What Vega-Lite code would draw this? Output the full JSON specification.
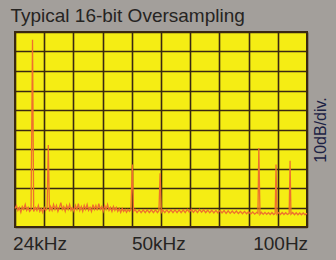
{
  "$schema": "https://vega.github.io/schema/vega-lite/v6.json",
  "width": 292,
  "height": 195,
  "autosize": "none",
  "padding": {"left": 15, "top": 32, "right": 29, "bottom": 33},
  "background": "#a39f9b",
  "title": {"text": "Typical 16-bit Oversampling", "anchor": "start", "font": "Liberation Sans", "fontSize": 19, "fontWeight": "normal", "color": "#262422", "offset": 6, "baseline": "bottom", "dx": -2, "dy": 19},
  "data": {"values": [
    {"div": 0.00, "dB": -90.5}, {"div": 0.05, "dB": -89}, {"div": 0.10, "dB": -91.5}, {"div": 0.15, "dB": -90}, {"div": 0.20, "dB": -92.5},
    {"div": 0.25, "dB": -89.5}, {"div": 0.30, "dB": -91}, {"div": 0.35, "dB": -88.5}, {"div": 0.40, "dB": -91.5}, {"div": 0.45, "dB": -90},
    {"div": 0.50, "dB": -92}, {"div": 0.55, "dB": -91}, {"div": 0.60, "dB": -4}, {"div": 0.64, "dB": -92}, {"div": 0.70, "dB": -90},
    {"div": 0.75, "dB": -91.5}, {"div": 0.80, "dB": -89}, {"div": 0.85, "dB": -92}, {"div": 0.90, "dB": -90.5}, {"div": 0.95, "dB": -92.5},
    {"div": 1.00, "dB": -90}, {"div": 1.05, "dB": -91.5}, {"div": 1.10, "dB": -90}, {"div": 1.14, "dB": -58}, {"div": 1.18, "dB": -92},
    {"div": 1.22, "dB": -89.5}, {"div": 1.27, "dB": -91.5}, {"div": 1.32, "dB": -88.5}, {"div": 1.37, "dB": -91}, {"div": 1.42, "dB": -89},
    {"div": 1.47, "dB": -92}, {"div": 1.52, "dB": -90}, {"div": 1.57, "dB": -87.5}, {"div": 1.62, "dB": -91}, {"div": 1.67, "dB": -89.5},
    {"div": 1.72, "dB": -92}, {"div": 1.77, "dB": -89}, {"div": 1.82, "dB": -91}, {"div": 1.87, "dB": -88.5}, {"div": 1.92, "dB": -91.5},
    {"div": 1.97, "dB": -90}, {"div": 2.02, "dB": -92}, {"div": 2.07, "dB": -89}, {"div": 2.12, "dB": -91}, {"div": 2.17, "dB": -88},
    {"div": 2.22, "dB": -91.5}, {"div": 2.27, "dB": -89.5}, {"div": 2.32, "dB": -92}, {"div": 2.37, "dB": -89}, {"div": 2.42, "dB": -91},
    {"div": 2.47, "dB": -88.5}, {"div": 2.52, "dB": -91.5}, {"div": 2.57, "dB": -90}, {"div": 2.62, "dB": -92}, {"div": 2.67, "dB": -88.5},
    {"div": 2.72, "dB": -91}, {"div": 2.77, "dB": -89}, {"div": 2.82, "dB": -91.5}, {"div": 2.87, "dB": -88}, {"div": 2.92, "dB": -91},
    {"div": 2.97, "dB": -89.5}, {"div": 3.02, "dB": -92}, {"div": 3.07, "dB": -89}, {"div": 3.12, "dB": -91}, {"div": 3.17, "dB": -88.5},
    {"div": 3.22, "dB": -91.5}, {"div": 3.27, "dB": -90}, {"div": 3.32, "dB": -92}, {"div": 3.37, "dB": -89.5}, {"div": 3.42, "dB": -91.5},
    {"div": 3.47, "dB": -90}, {"div": 3.52, "dB": -92}, {"div": 3.57, "dB": -90.5}, {"div": 3.62, "dB": -92.5}, {"div": 3.67, "dB": -90.5},
    {"div": 3.72, "dB": -92}, {"div": 3.77, "dB": -91}, {"div": 3.82, "dB": -92.5}, {"div": 3.87, "dB": -91}, {"div": 3.92, "dB": -92},
    {"div": 3.97, "dB": -91}, {"div": 4.02, "dB": -68}, {"div": 4.06, "dB": -92}, {"div": 4.11, "dB": -91}, {"div": 4.18, "dB": -92.6},
    {"div": 4.25, "dB": -91.2}, {"div": 4.32, "dB": -92.6}, {"div": 4.39, "dB": -91.2}, {"div": 4.46, "dB": -92.6}, {"div": 4.53, "dB": -91.2},
    {"div": 4.60, "dB": -92.6}, {"div": 4.67, "dB": -91.2}, {"div": 4.74, "dB": -92.6}, {"div": 4.81, "dB": -91.2}, {"div": 4.88, "dB": -92.6},
    {"div": 4.93, "dB": -91.5}, {"div": 4.97, "dB": -72.5}, {"div": 5.01, "dB": -92.5}, {"div": 5.06, "dB": -91.2}, {"div": 5.13, "dB": -92.6},
    {"div": 5.20, "dB": -91.2}, {"div": 5.27, "dB": -92.6}, {"div": 5.34, "dB": -91.2}, {"div": 5.41, "dB": -92.6}, {"div": 5.48, "dB": -91.2},
    {"div": 5.55, "dB": -92.6}, {"div": 5.62, "dB": -91.2}, {"div": 5.69, "dB": -92.6}, {"div": 5.76, "dB": -91.2}, {"div": 5.83, "dB": -92.6},
    {"div": 5.90, "dB": -91}, {"div": 5.97, "dB": -92.4}, {"div": 6.04, "dB": -91}, {"div": 6.11, "dB": -92.5}, {"div": 6.18, "dB": -91.2},
    {"div": 6.25, "dB": -92.6}, {"div": 6.32, "dB": -91}, {"div": 6.39, "dB": -92.4}, {"div": 6.46, "dB": -91.2}, {"div": 6.53, "dB": -92.6},
    {"div": 6.60, "dB": -91.3}, {"div": 6.67, "dB": -92.7}, {"div": 6.74, "dB": -91.4}, {"div": 6.81, "dB": -92.8}, {"div": 6.88, "dB": -91.5},
    {"div": 6.95, "dB": -92.8}, {"div": 7.02, "dB": -91.5}, {"div": 7.09, "dB": -92.8}, {"div": 7.16, "dB": -91.6}, {"div": 7.23, "dB": -93},
    {"div": 7.30, "dB": -91.7}, {"div": 7.37, "dB": -93}, {"div": 7.44, "dB": -91.8}, {"div": 7.51, "dB": -93}, {"div": 7.58, "dB": -91.8},
    {"div": 7.65, "dB": -93.1}, {"div": 7.72, "dB": -92}, {"div": 7.79, "dB": -93.2}, {"div": 7.86, "dB": -92}, {"div": 7.93, "dB": -93.2},
    {"div": 8.00, "dB": -92.2}, {"div": 8.07, "dB": -93.4}, {"div": 8.14, "dB": -92.3}, {"div": 8.21, "dB": -93.4}, {"div": 8.28, "dB": -92.5},
    {"div": 8.32, "dB": -93}, {"div": 8.35, "dB": -59.5}, {"div": 8.39, "dB": -93.5}, {"div": 8.44, "dB": -92.5}, {"div": 8.50, "dB": -93.5},
    {"div": 8.56, "dB": -92.5}, {"div": 8.62, "dB": -93.5}, {"div": 8.68, "dB": -92.6}, {"div": 8.74, "dB": -93.6}, {"div": 8.80, "dB": -92.6},
    {"div": 8.86, "dB": -93.6}, {"div": 8.91, "dB": -93}, {"div": 8.94, "dB": -68}, {"div": 8.97, "dB": -93.5}, {"div": 9.03, "dB": -92.6},
    {"div": 9.09, "dB": -93.6}, {"div": 9.15, "dB": -92.6}, {"div": 9.21, "dB": -93.6}, {"div": 9.27, "dB": -92.7}, {"div": 9.33, "dB": -93.6},
    {"div": 9.39, "dB": -93}, {"div": 9.42, "dB": -66}, {"div": 9.45, "dB": -93.5}, {"div": 9.51, "dB": -92.6}, {"div": 9.57, "dB": -93.7},
    {"div": 9.63, "dB": -92.7}, {"div": 9.69, "dB": -93.7}, {"div": 9.75, "dB": -92.8}, {"div": 9.81, "dB": -93.7}, {"div": 9.87, "dB": -92.8},
    {"div": 9.93, "dB": -93.7}, {"div": 10.00, "dB": -93}
  ]},
  "mark": {"type": "line", "color": "#ee702e", "strokeWidth": 1.3, "interpolate": "linear"},
  "encoding": {
    "x": {
      "field": "div", "type": "quantitative",
      "scale": {"domain": [0, 10], "nice": false, "zero": false},
      "axis": {
        "title": null,
        "values": [0, 0.84, 1, 2, 3, 4, 4.91, 5, 6, 7, 8, 9, 9.08, 10],
        "labelExpr": "datum.value == 0.84 ? '24kHz' : datum.value == 4.91 ? '50kHz' : datum.value == 9.08 ? '100Hz' : ''",
        "gridOpacity": {"condition": {"test": "datum.value == 0.84 || datum.value == 4.91 || datum.value == 9.08", "value": 0}, "value": 1},
        "grid": true, "gridColor": "#3a2812", "gridWidth": 1.6,
        "ticks": false, "tickSize": 0, "domain": false,
        "labelPadding": 7, "labelFont": "Liberation Sans", "labelFontSize": 19, "labelColor": "#262422",
        "labelOverlap": false, "labelFlush": false
      }
    },
    "y": {
      "field": "dB", "type": "quantitative",
      "scale": {"domain": [-100, 0], "nice": false, "zero": false},
      "axis": {
        "orient": "right",
        "values": [-100, -90, -80, -70, -60, -50, -40, -30, -20, -10, 0],
        "grid": true, "gridColor": "#3a2812", "gridWidth": 1.6,
        "labels": false, "ticks": false, "tickSize": 0, "domain": false,
        "title": "10dB/div.", "titleAngle": 270, "titleFont": "Liberation Sans", "titleFontSize": 16,
        "titleFontWeight": "normal", "titleColor": "#1c2244", "titlePadding": 21
      }
    }
  },
  "config": {"view": {"fill": "#f5ed14", "stroke": "#3a2812", "strokeWidth": 2}}
}
